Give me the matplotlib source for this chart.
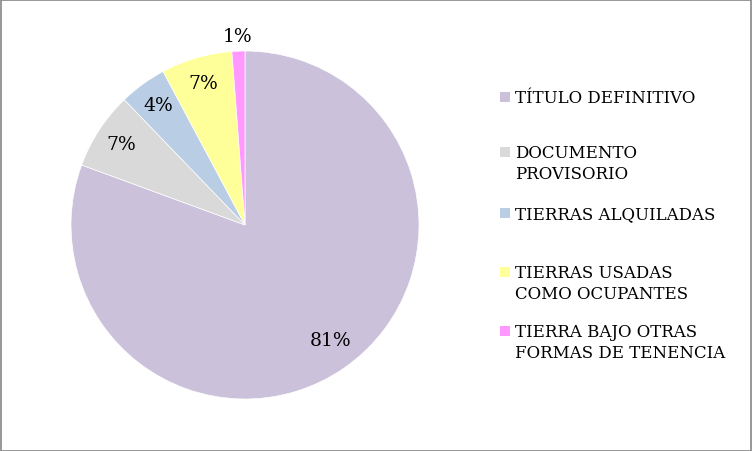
import matplotlib.pyplot as plt
from matplotlib.patches import Rectangle

labels = ['TÍTULO DEFINITIVO', 'DOCUMENTO\nPROVISORIO', 'TIERRAS ALQUILADAS',
          'TIERRAS USADAS\nCOMO OCUPANTES', 'TIERRA BAJO OTRAS\nFORMAS DE TENENCIA']
values = [80.6, 7.2, 4.4, 6.6, 1.2]
colors = ['#CCC1DA', '#D9D9D9', '#B9CDE5', '#FFFF99', '#FF99FF']

plt.rcParams['font.family'] = ['DejaVu Serif']

fig = plt.figure(figsize=(7.52, 4.52), dpi=100)
fig.patch.set_facecolor('white')
fig.patches.append(Rectangle((0.5 / 752, 0.5 / 452), 1 - 1.5 / 752, 1 - 1.5 / 452,
                             transform=fig.transFigure, fill=False,
                             edgecolor='#868686', linewidth=1.2))

ax = fig.add_axes([71 / 752, 52 / 452, 348 / 752, 348 / 452])
wedges, texts, autotexts = ax.pie(values, colors=colors, startangle=90, counterclock=False,
                                  autopct='%.0f%%', pctdistance=0.85,
                                  wedgeprops=dict(linewidth=0.5, edgecolor='white'),
                                  textprops=dict(fontsize=13.5, color='black'))
ax.set_xlim(-1, 1)
ax.set_ylim(-1, 1)
# big slice label a bit further in, small slice label outside the pie
x0, y0 = autotexts[0].get_position()
autotexts[0].set_position((x0 * 0.95 + 0.03, y0 * 0.95))
autotexts[-1].set_position((-0.04, 1.085))

# legend drawn by hand to keep Excel-like spacing (baseline of first line, px from top)
ys = [103, 158, 219, 278, 337]
pitch = 21
for lab, col, y in zip(labels, colors, ys):
    fig.patches.append(Rectangle((500 / 752, 1 - y / 452), 10 / 752, 10 / 452,
                                 transform=fig.transFigure, facecolor=col, edgecolor='none'))
    for i, line in enumerate(lab.split('\n')):
        fig.text(515 / 752, 1 - (y + i * pitch) / 452, line, fontsize=12,
                 va='baseline', ha='left')

fig.savefig('out.png', dpi=100)
